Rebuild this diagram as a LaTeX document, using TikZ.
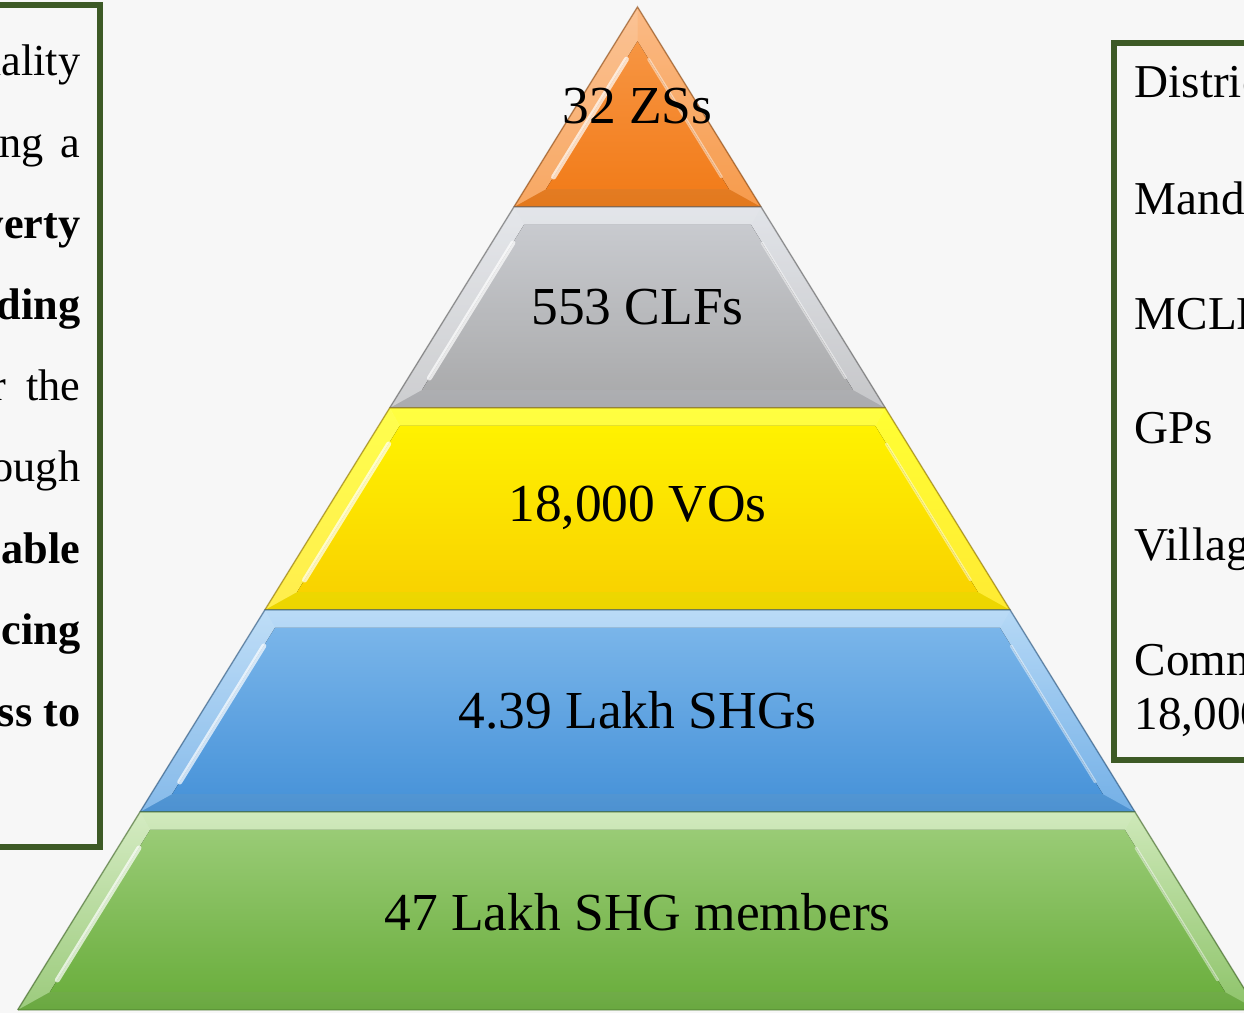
\documentclass[tikz,border=0pt]{standalone}
\usepackage{fontspec}
\setmainfont{Liberation Serif}
\definecolor{paper}{RGB}{247,247,247}
\definecolor{boxgreen}{RGB}{61,90,38}
\definecolor{ora1}{HTML}{FAAA68}
\definecolor{ora2}{HTML}{F5821F}
\definecolor{ora3}{HTML}{EF7818}
\definecolor{gry1}{HTML}{DADDE3}
\definecolor{gry2}{HTML}{B8B9BC}
\definecolor{gry3}{HTML}{9E9E9E}
\definecolor{yel1}{HTML}{FFFF00}
\definecolor{yel2}{HTML}{FFE600}
\definecolor{yel3}{HTML}{F3BF00}
\definecolor{blu1}{HTML}{A3CFF4}
\definecolor{blu2}{HTML}{529DE1}
\definecolor{blu3}{HTML}{428CD2}
\definecolor{grn1}{HTML}{C2E3A8}
\definecolor{grn2}{HTML}{72B545}
\definecolor{grn3}{HTML}{68AA3B}
\begin{document}
\begin{tikzpicture}[x=0.01cm,y=-0.01cm]
        \tikzstyle{frame}=[draw=boxgreen,line width=0.06cm]
        \tikzstyle{level}=[font=\fontsize{15.2}{18}\selectfont,inner sep=0pt]
        \tikzstyle{boxtext}=[font=\fontsize{12.6}{14}\selectfont,inner sep=0pt,anchor=base east]
        \tikzstyle{sidetext}=[font=\fontsize{13.4}{16}\selectfont,inner sep=0pt,anchor=base west]
        \useasboundingbox (0,0) rectangle (1244,1013);
        \clip (0,0) rectangle (1244,1013);
        \fill[paper] (0,0) rectangle (1244,1013);

        % left text box
        \draw[frame] (-40,5) rectangle (100,847);
        \node[boxtext] (l1) at (81,76) {quality};
        \node[boxtext] (l2) at (81,158) {making\hspace{0.06cm} a};
        \node[boxtext] (l3) at (81,239) {\textbf{poverty}};
        \node[boxtext] (l4) at (81,320) {\textbf{building}};
        \node[boxtext] (l5) at (81,401) {for\hspace{0.2cm}the};
        \node[boxtext] (l6) at (81,482) {through};
        \node[boxtext] (l7) at (81,564) {\textbf{sustainable}};
        \node[boxtext] (l8) at (81,645) {\textbf{enhancing}};
        \node[boxtext] (l9) at (81,727) {\textbf{access to}};

        % pyramid layers
        \foreach \t/\b/\ca/\cm/\cb in {7/207/ora1/ora2/ora3,207/408/gry1/gry2/gry3,408/610/yel1/yel2/yel3,610/812/blu1/blu2/blu3,812/1010/grn1/grn2/grn3}{
          \pgfmathsetmacro\ho{0.618*(\t-7)}
          \pgfmathsetmacro\hb{0.618*(\b-7)}
          \pgfmathsetmacro\ti{max(\t+18,41.3)}
          \pgfmathsetmacro\hi{max(0.618*(\ti-7)-21.2,0)}
          \pgfmathsetmacro\bi{\b-18}
          \pgfmathsetmacro\hj{0.618*(\bi-7)-21.2}
          \coordinate (ol) at ({637.5-\ho},\t);
          \coordinate (or) at ({637.5+\ho},\t);
          \coordinate (br) at ({637.5+\hb},\b);
          \coordinate (bl) at ({637.5-\hb},\b);
          \coordinate (il) at ({637.5-\hi},\ti);
          \coordinate (ir) at ({637.5+\hi},\ti);
          \coordinate (jr) at ({637.5+\hj},\bi);
          \coordinate (jl) at ({637.5-\hj},\bi);
          \fill[top color=\ca,bottom color=\cm] (ol) -- (or) -- (br) -- (bl) -- cycle;
          \fill[white,opacity=.3] (ol) -- (il) -- (jl) -- (bl) -- cycle;
          \fill[white,opacity=.2] (or) -- (ir) -- (jr) -- (br) -- cycle;
          \fill[white,opacity=.25] (ol) -- (il) -- (ir) -- (or) -- cycle;
          \fill[black,opacity=.07] (bl) -- (jl) -- (jr) -- (br) -- cycle;
          \fill[top color=\ca,middle color=\cm,bottom color=\cb,shading angle=0] (il) -- (ir) -- (jr) -- (jl) -- cycle;
          \fill[\cm,opacity=.5] (il) -- (ir) -- (jr) -- (jl) -- cycle;
          \draw[white,opacity=.7,line width=0.05cm,shorten <=4pt,shorten >=6pt,line cap=round] (jl) -- (il);
          \draw[white,opacity=.45,line width=0.03cm,shorten <=4pt,shorten >=6pt,line cap=round] (jr) -- (ir);
          \draw[\cb!60!black,opacity=.5,line width=0.015cm] (bl) -- (ol) -- (or) -- (br);
          \draw[\cb!70!black,opacity=.35,line width=0.02cm] (bl) -- (br);
        }
        \node[level] (zs) at (637.5,106) {32 ZSs};
        \node[level] (clf) at (637.5,307) {553 CLFs};
        \node[level] (vo) at (637.5,508) {18,000 VOs};
        \node[level] (shg) at (637.5,710) {4.39 Lakh SHGs};
        \node[level] (mem) at (637.5,912) {47 Lakh SHG members};

        % right text box
        \draw[frame] (1114,43) rectangle (1300,760);
        \node[sidetext] (r1) at (1134,98) {Districts};
        \node[sidetext] (r2) at (1134,215) {Mandals};
        \node[sidetext] (r3) at (1134,330) {MCLFs};
        \node[sidetext] (r4) at (1134,444) {GPs};
        \node[sidetext] (r5) at (1134,561) {Villages};
        \node[sidetext] (r6) at (1134,676) {Community};
        \node[sidetext] (r7) at (1134,730) {18,000};
\end{tikzpicture}
\end{document}
